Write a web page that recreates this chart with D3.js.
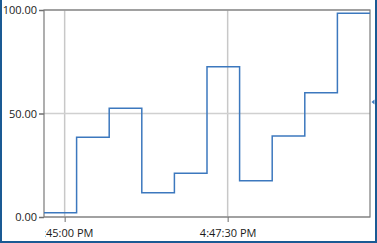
<!DOCTYPE html>
<html>
<head>
<meta charset="utf-8">
<script src="https://cdn.jsdelivr.net/npm/d3@7"></script>
<style>
  html, body { margin: 0; padding: 0; background: #fff; }
  svg { display: block; }
  .tick text { font-family: "Open Sans", sans-serif; font-size: 11px; fill: #1a1a1a; }
</style>
</head>
<body>
<div id="chart"></div>
<script>
const WIDTH = 377;
const HEIGHT = 243;

const OFFSET_LEFT = 44;
const OFFSET_RIGHT = 7;
const OFFSET_TOP = 10;
const OFFSET_BOTTOM = 26;

// sample times (every 30 s) and values
const times = ["16:44:41", "16:45:11", "16:45:41", "16:46:11", "16:46:41", "16:47:11",
               "16:47:41", "16:48:11", "16:48:41", "16:49:11", "16:49:41"];
const values = [2.1, 38.5, 52.5, 11.7, 21.1, 72.6, 17.5, 39.1, 60.0, 98.4, 98.4];
const xTicks = ["16:45:00", "16:47:30"];
const yTicks = [0, 50, 100];

const parseTime = s => {
  const p = s.split(":").map(Number);
  return new Date(2020, 0, 1, p[0], p[1], p[2]);
};

const data = times.map((t, i) => ({ t: parseTime(t), v: values[i] }));

const svg = d3.select("#chart")
  .append("svg")
  .attr("width", WIDTH)
  .attr("height", HEIGHT);

const x = d3.scaleTime()
  .domain(d3.extent(data, d => d.t))
  .range([OFFSET_LEFT, WIDTH - OFFSET_RIGHT]);

const y = d3.scaleLinear()
  .domain([0, 100])
  .range([HEIGHT - OFFSET_BOTTOM, OFFSET_TOP]);

// gridlines
svg.append("g")
  .selectAll("line")
  .data(xTicks.map(parseTime))
  .enter()
  .append("line")
  .attr("x1", d => x(d)).attr("x2", d => x(d))
  .attr("y1", OFFSET_TOP).attr("y2", HEIGHT - OFFSET_BOTTOM)
  .attr("stroke", "#c8c8c8")
  .attr("stroke-width", 1.5);

svg.append("g")
  .selectAll("line")
  .data(yTicks)
  .enter()
  .append("line")
  .attr("x1", OFFSET_LEFT).attr("x2", WIDTH - OFFSET_RIGHT)
  .attr("y1", d => y(d)).attr("y2", d => y(d))
  .attr("stroke", "#d0d0d0")
  .attr("stroke-width", 1.5);

// clip for x labels (they get cut at the plot's left edge)
svg.append("clipPath")
  .attr("id", "xclip")
  .append("rect")
  .attr("x", OFFSET_LEFT + 1).attr("y", 0)
  .attr("width", WIDTH - OFFSET_LEFT).attr("height", HEIGHT);

// x axis
const xAxis = d3.axisBottom(x)
  .tickValues(xTicks.map(parseTime))
  .tickFormat(d3.timeFormat("%-I:%M:%S %p"))
  .tickSize(5)
  .tickPadding(7);

svg.append("g")
  .attr("transform", "translate(0," + (HEIGHT - OFFSET_BOTTOM) + ")")
  .attr("clip-path", "url(#xclip)")
  .call(xAxis)
  .call(g => g.select(".domain").remove())
  .call(g => g.selectAll(".tick line").attr("stroke", "#6e6e6e"));

// y axis
const yAxis = d3.axisLeft(y)
  .tickValues(yTicks)
  .tickFormat(d3.format(".2f"))
  .tickSize(5)
  .tickPadding(2);

svg.append("g")
  .attr("transform", "translate(" + OFFSET_LEFT + ",0)")
  .call(yAxis)
  .call(g => g.select(".domain").remove())
  .call(g => g.selectAll(".tick line").attr("stroke", "#6e6e6e").attr("stroke-width", 1.5));

// plot frame
svg.append("rect")
  .attr("x", OFFSET_LEFT).attr("y", OFFSET_TOP)
  .attr("width", WIDTH - OFFSET_LEFT - OFFSET_RIGHT)
  .attr("height", HEIGHT - OFFSET_TOP - OFFSET_BOTTOM)
  .attr("fill", "none")
  .attr("stroke", "#7a7a7a")
  .attr("stroke-width", 1.2);

// step line
const line = d3.line()
  .x(d => x(d.t))
  .y(d => y(d.v))
  .curve(d3.curveStepAfter);

svg.append("path")
  .datum(data)
  .attr("d", line)
  .attr("fill", "none")
  .attr("stroke", "#3c78be")
  .attr("stroke-width", 1.5);

// small cursor marker on the right edge
svg.append("path")
  .attr("d", "M" + (WIDTH - OFFSET_RIGHT + 1.5) + "," + y(55.5) + " l3,-2.5 v5 z")
  .attr("fill", "#3c78be");

// outer border (left, right, bottom)
svg.append("path")
  .attr("d", "M1,0 V" + (HEIGHT - 1) + " H" + (WIDTH - 1) + " V0")
  .attr("fill", "none")
  .attr("stroke", "#1a5a94")
  .attr("stroke-width", 2);
</script>
</body>
</html>
